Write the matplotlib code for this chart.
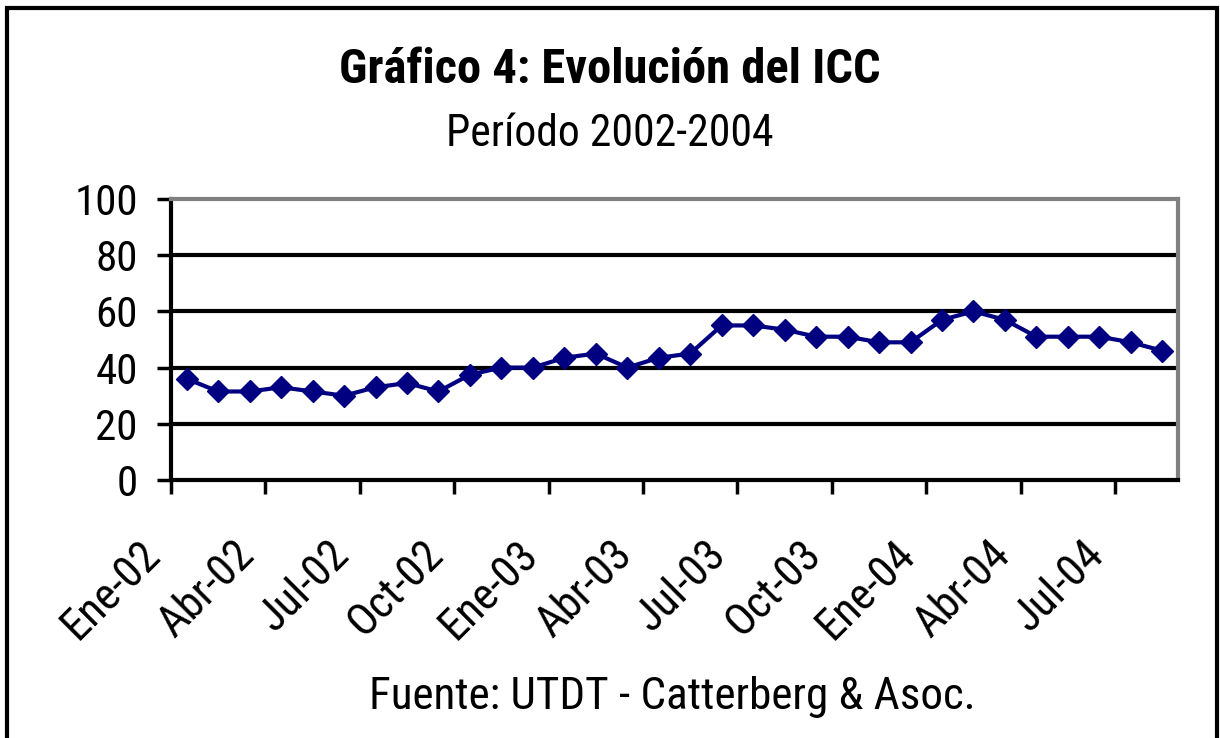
import matplotlib
matplotlib.use("Agg")
import matplotlib.pyplot as plt
from matplotlib.patches import Rectangle
from matplotlib.transforms import ScaledTranslation
import numpy as np

# ICC mensual, Ene-02 a Ago-04
valores = [36, 31.5, 31.5, 33, 31.5, 30, 33, 34.5, 31.5, 37.5, 40, 40,
           43.5, 45, 40, 43.5, 45, 55, 55, 53.5, 51, 51, 49, 49,
           57, 60, 57, 51, 51, 51, 49, 46]
etiquetas = ["Ene-02", "Abr-02", "Jul-02", "Oct-02", "Ene-03", "Abr-03",
             "Jul-03", "Oct-03", "Ene-04", "Abr-04", "Jul-04"]
yticks = [0, 20, 40, 60, 80, 100]

plt.rcParams['font.family'] = ['Roboto Condensed', 'Liberation Sans', 'DejaVu Sans']

fig = plt.figure(figsize=(12.2, 7.38), dpi=100)
ax = fig.add_axes([171/1220, 1-480/738, (1178-171)/1220, (480-199)/738])

x = np.arange(len(valores))
ax.plot(x, valores, color='#000080', lw=3, marker='D', ms=11, zorder=3)

ax.set_xlim(-0.5, len(valores) - 0.5)
ax.set_ylim(0, 100)
ax.set_yticks(yticks)
ax.tick_params(axis='y', labelsize=31, length=10, width=2.5, pad=14, direction='out')
for yv in yticks[1:-1]:
    ax.axhline(yv, color='black', lw=3, zorder=1)

# ticks between categories, labels at category centres
ax.set_xticks(np.arange(-0.5, len(valores) - 1, 3))
ax.set_xticklabels([])
ax.tick_params(axis='x', which='major', length=10, width=2.5, direction='out')
ax.set_xticks(np.arange(0, len(valores), 3), minor=True)
ax.set_xticklabels(etiquetas, minor=True, rotation=45, ha='right',
                   rotation_mode='anchor', fontsize=32)
ax.tick_params(axis='x', which='minor', length=0, pad=24)
desplazo = ScaledTranslation(-0.48, -0.20, fig.dpi_scale_trans)
for lab in ax.get_xticklabels(minor=True):
    lab.set_transform(lab.get_transform() + desplazo)

ax.spines['left'].set_linewidth(3)
ax.spines['bottom'].set_linewidth(3)
ax.spines['top'].set_color('#808080')
ax.spines['top'].set_linewidth(3)
ax.spines['right'].set_color('#808080')
ax.spines['right'].set_linewidth(3)

fig.text(0.5, 1-70/738, "Gráfico 4: Evolución del ICC", ha='center', va='center',
         fontsize=35, fontweight='bold')
fig.text(0.5, 1-134/738, "Período 2002-2004", ha='center', va='center', fontsize=31.5)
fig.text(672/1220, 1-697/738, "Fuente: UTDT - Catterberg & Asoc.", ha='center',
         va='center', fontsize=32.5)

fig.patches.append(Rectangle((7/1220, -0.05), (1217-7)/1220, 1.05-8/738,
                             transform=fig.transFigure, fill=False,
                             edgecolor='black', lw=3))

fig.savefig("out.png", dpi=100)
